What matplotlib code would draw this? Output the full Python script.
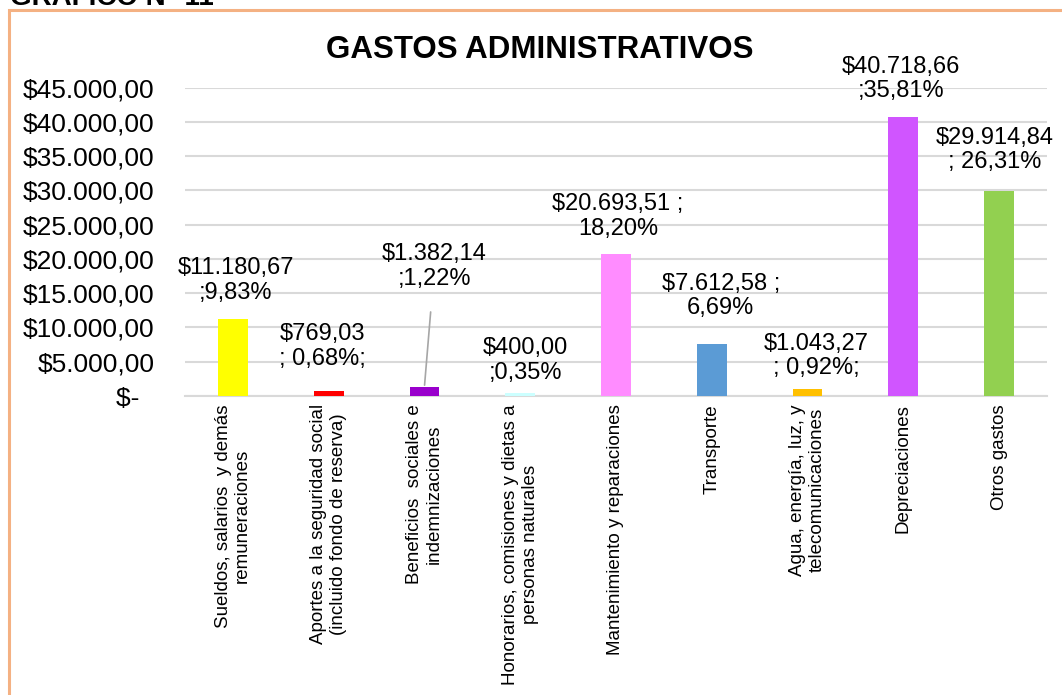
import matplotlib
matplotlib.use("Agg")
import matplotlib.pyplot as plt
from matplotlib.patches import Rectangle

plt.rcParams['font.family'] = ['Liberation Sans', 'DejaVu Sans']

categories = [
    "Sueldos, salarios  y demás\nremuneraciones",
    "Aportes a la seguridad social\n(incluido fondo de reserva)",
    "Beneficios  sociales e\nindemnizaciones",
    "Honorarios, comisiones y dietas a\npersonas naturales",
    "Mantenimiento y reparaciones",
    "Transporte",
    "Agua, energía, luz, y\ntelecomunicaciones",
    "Depreciaciones",
    "Otros gastos",
]
values = [11180.67, 769.03, 1382.14, 400.00, 20693.51, 7612.58, 1043.27, 40718.66, 29914.84]
value_labels = [
    "$11.180,67\n;9,83%",
    "$769,03\n; 0,68%;",
    "$1.382,14\n;1,22%",
    "$400,00\n;0,35%",
    "$20.693,51 ;\n18,20%",
    "$7.612,58 ;\n6,69%",
    "$1.043,27\n; 0,92%;",
    "$40.718,66\n;35,81%",
    "$29.914,84\n; 26,31%",
]
bar_colors = ["#FFFF00", "#FF0000", "#9900CC", "#CCFFFF", "#FF8CFF",
              "#5B9BD5", "#FFC000", "#D055FF", "#92D050"]
y_ticks = [0, 5000, 10000, 15000, 20000, 25000, 30000, 35000, 40000, 45000]
y_tick_labels = ["$-  ", "$5.000,00", "$10.000,00", "$15.000,00", "$20.000,00",
                 "$25.000,00", "$30.000,00", "$35.000,00", "$40.000,00", "$45.000,00"]
title = "GASTOS ADMINISTRATIVOS"
header = "GRÁFICO N° 11"

# label offsets in pixels (dx, dy of label block centre from bar top)
label_offsets = [(3, 39), (-6, 44), (10, 120), (5, 33), (2, 38),
                 (9, 48), (9, 33), (-2, 38), (-4, 41)]

W, H = 1062, 695
fig = plt.figure(figsize=(W / 100, H / 100), dpi=100)
ax = fig.add_axes([185 / W, 1 - 396 / H, (1047 - 185) / W, (396 - 87.7) / H])

x = list(range(len(categories)))
ax.bar(x, values, width=0.31, color=bar_colors, zorder=3)

ax.set_xlim(-0.5, len(categories) - 0.5)
ax.set_ylim(0, 45000)
ax.set_yticks(y_ticks)
ax.set_yticklabels(y_tick_labels, fontsize=19, color="black")
ax.set_xticks(x)
ax.set_xticklabels(categories, rotation=90, fontsize=13.5, color="black",
                   multialignment="center", va="top", ha="center")
ax.tick_params(axis="y", length=0, pad=22)
ax.tick_params(axis="x", length=0, pad=6)
ax.grid(axis="y", color="#D9D9D9", linewidth=1.5, zorder=0)
for s in ["top", "right", "left"]:
    ax.spines[s].set_visible(False)
ax.spines["bottom"].set_color("#D9D9D9")
ax.spines["bottom"].set_linewidth(1.5)

px2pt = 72 / 100
for i, (v, lab, (dx, dy)) in enumerate(zip(values, value_labels, label_offsets)):
    if i == 2:
        ax.annotate(lab, xy=(i, v), xytext=(dx * px2pt, dy * px2pt),
                    textcoords="offset points", ha="center", va="center",
                    fontsize=17, color="black", linespacing=1.15,
                    arrowprops=dict(arrowstyle="-", color="#A6A6A6", lw=1.2,
                                    shrinkA=14, shrinkB=1))
    else:
        ax.annotate(lab, xy=(i, v), xytext=(dx * px2pt, dy * px2pt),
                    textcoords="offset points", ha="center", va="center",
                    fontsize=17, color="black", linespacing=1.15)

fig.text(539.5 / W, 1 - 50 / H, title, ha="center", va="center",
         fontsize=22.5, fontweight="bold", color="black")
fig.text(10 / W, 1 - 5 / H, header, ha="left", va="baseline",
         fontsize=20, fontweight="bold", color="black")

fig.patches.append(Rectangle((9 / W, -0.05), 1.2, 1 - 10 / H + 0.05,
                             transform=fig.transFigure, fill=False,
                             edgecolor="#F4B183", linewidth=2.2, zorder=0))

fig.savefig("out.png", dpi=100)
